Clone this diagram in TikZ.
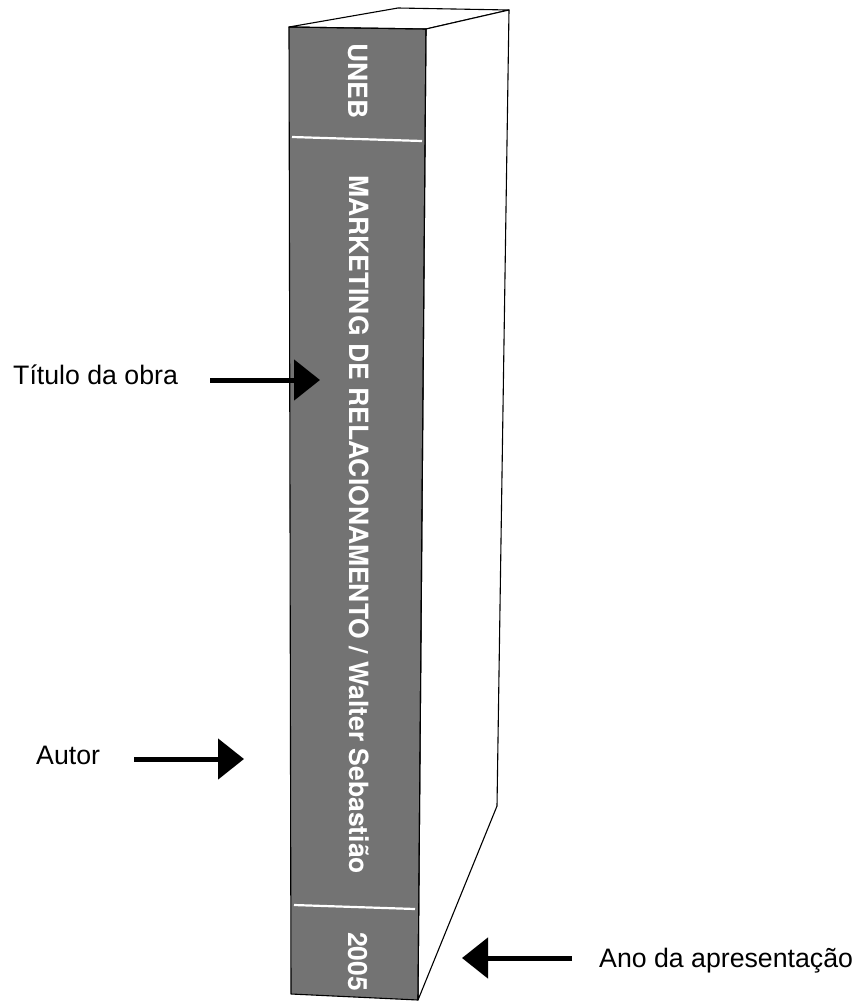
\documentclass[tikz,border=0pt]{standalone}
\usepackage{fontspec}
\setmainfont{Liberation Sans}
\newfontfamily\spinefont{texgyreheros-bold.otf}
\usetikzlibrary{arrows.meta}
\definecolor{spinegray}{HTML}{737373}
\tikzset{
  booklines/.style={draw=black, line width=1.1pt, line join=round},
  divider/.style={draw=white, line width=2.2pt},
  spinetext/.style={rotate=-90, anchor=base west, inner sep=0pt, text=white, font=\spinefont\fontsize{26.5}{30}\selectfont},
  label/.style={anchor=base west, inner sep=0pt, font=\fontsize{26.7}{30}\selectfont},
  pointer/.style={line width=5pt, -{Triangle[length=26pt,width=40pt]}}
}
\begin{document}
\begin{tikzpicture}[x=1pt,y=-1pt]
\useasboundingbox (0,0) rectangle (858,1001);
% book shapes
\coordinate (sTL) at (289,27);
\coordinate (sTR) at (426,29);
\coordinate (sBR) at (418,1000);
\coordinate (sBL) at (291,994);
\coordinate (bTL) at (398,8);
\coordinate (bTR) at (509,10);
\coordinate (bBR) at (497,806);
\fill[spinegray] (sTL) -- (sTR) -- (sBR) -- (sBL) -- cycle;
\draw[booklines, fill=white] (sTL) -- (bTL) -- (bTR) -- (sTR) -- cycle;
\draw[booklines, fill=white] (sTR) -- (bTR) -- (bBR) -- (sBR) -- cycle;
\draw[booklines] (sTL) -- (sTR) -- (sBR) -- (sBL) -- cycle;
% dividers
\coordinate (d1a) at (292,137);
\coordinate (d1b) at (422,141);
\coordinate (d2a) at (294,905);
\coordinate (d2b) at (415,909);
\draw[divider] (d1a) -- (d1b);
\draw[divider] (d2a) -- (d2b);
% spine texts
\node[spinetext] (uneb) at (348,43) {UNEB};
\node[spinetext] (title) at (349,175) {MARKETING DE RELACIONAMENTO / Walter Sebastião};
\node[spinetext] (year) at (348,932) {2005};
% labels
\node[label] (ltitle) at (13,384) {Título da obra};
\node[label] (lautor) at (36,764) {Autor};
\node[label] (lano) at (599,967) {Ano da apresentação};
% arrows
\coordinate (a1s) at (210,380);
\coordinate (a1e) at (320,380);
\coordinate (a2s) at (134,759);
\coordinate (a2e) at (244,759);
\coordinate (a3s) at (572,958);
\coordinate (a3e) at (462,958);
\draw[pointer] (a1s) -- (a1e);
\draw[pointer] (a2s) -- (a2e);
\draw[pointer] (a3s) -- (a3e);
\end{tikzpicture}
\end{document}
